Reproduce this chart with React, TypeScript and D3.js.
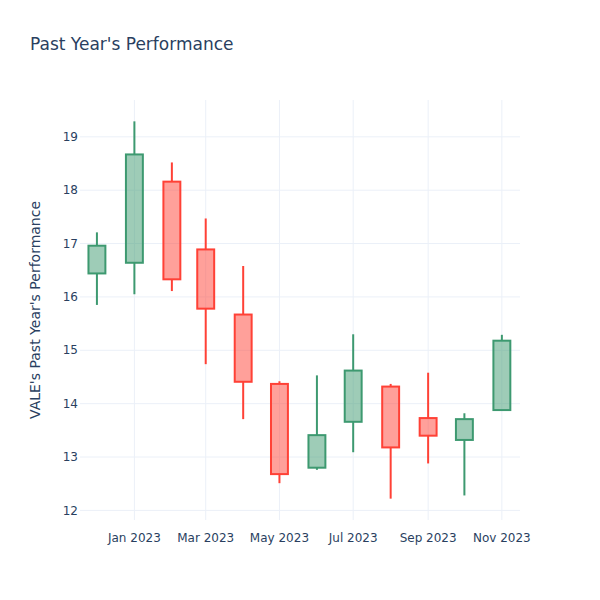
import React from "react";
import * as d3 from "d3";

const dates = ["2022-12-01","2023-01-01","2023-02-01","2023-03-01","2023-04-01","2023-05-01","2023-06-01","2023-07-01","2023-08-01","2023-09-01","2023-10-01","2023-11-01"];
const openV = [16.44, 16.64, 18.16, 16.89, 15.67, 14.37, 12.80, 13.66, 14.32, 13.73, 13.32, 13.88];
const highV = [17.21, 19.29, 18.52, 17.47, 16.58, 14.42, 14.53, 15.30, 14.37, 14.58, 13.82, 15.29];
const lowV = [15.85, 16.05, 16.11, 14.74, 13.71, 12.51, 12.76, 13.09, 12.22, 12.88, 12.28, 13.88];
const closeV = [16.96, 18.67, 16.33, 15.78, 14.41, 12.68, 13.41, 14.62, 13.18, 13.40, 13.71, 15.18];
const xTickDates = ["2023-01-01","2023-03-01","2023-05-01","2023-07-01","2023-09-01","2023-11-01"];
const xTickLabels = ["Jan 2023","Mar 2023","May 2023","Jul 2023","Sep 2023","Nov 2023"];
const yTicks = [12, 13, 14, 15, 16, 17, 18, 19];

const W = 600, H = 600;
const M = { l: 80, r: 80, t: 100, b: 80 };
const font = "'DejaVu Sans', sans-serif";
const textColor = "#2a3f5f";
const grid = "#EBF0F8";
const inc = "#3D9970";
const dec = "#FF4136";

const parse = (s: string) => new Date(s + "T00:00:00Z");

export default function App() {
  const x = d3.scaleUtc()
    .domain([parse("2022-11-17"), parse("2023-11-16")])
    .range([M.l, W - M.r]);
  const y = d3.scaleLinear().domain([11.82, 19.69]).range([H - M.b, M.t]);
  const halfDays = 7 * 86400000;

  return (
    <div style={{ position: "absolute", left: 0, top: 0 }}>
      <svg width={W} height={H} style={{ display: "block", background: "#fff" }}>
        <rect x={0} y={0} width={W} height={H} fill="#fff" />
        {xTickDates.map((d, i) => (
          <line key={"gx" + i} x1={x(parse(d))} x2={x(parse(d))} y1={M.t} y2={H - M.b} stroke={grid} strokeWidth={1} />
        ))}
        {yTicks.map((t) => (
          <line key={"gy" + t} x1={M.l} x2={W - M.r} y1={y(t)} y2={y(t)} stroke={grid} strokeWidth={1} />
        ))}
        {dates.map((d, i) => {
          const up = closeV[i] >= openV[i];
          const c = up ? inc : dec;
          const dt = parse(d);
          const cx = x(dt);
          const x0 = x(new Date(dt.getTime() - halfDays));
          const x1 = x(new Date(dt.getTime() + halfDays));
          const top = y(Math.max(openV[i], closeV[i]));
          const bot = y(Math.min(openV[i], closeV[i]));
          return (
            <g key={"c" + i}>
              <line x1={cx} x2={cx} y1={y(highV[i])} y2={top} stroke={c} strokeWidth={2} />
              <line x1={cx} x2={cx} y1={bot} y2={y(lowV[i])} stroke={c} strokeWidth={2} />
              <rect x={x0} y={top} width={x1 - x0} height={bot - top} fill={c} fillOpacity={0.5} stroke={c} strokeWidth={2} />
            </g>
          );
        })}
        {yTicks.map((t) => (
          <text key={"ty" + t} x={M.l - 2} y={y(t)} dy="0.35em" textAnchor="end" fontFamily={font} fontSize={12} fill={textColor}>{t}</text>
        ))}
        {xTickDates.map((d, i) => (
          <text key={"tx" + i} x={x(parse(d))} y={H - M.b + 13} dy="0.71em" textAnchor="middle" fontFamily={font} fontSize={12} fill={textColor}>{xTickLabels[i]}</text>
        ))}
        <text x={30} y={50} fontFamily={font} fontSize={17} fill={textColor}>Past Year's Performance</text>
        <text transform={`translate(40, ${(M.t + H - M.b) / 2}) rotate(-90)`} textAnchor="middle" fontFamily={font} fontSize={14} fill={textColor}>VALE's Past Year's Performance</text>
      </svg>
    </div>
  );
}
